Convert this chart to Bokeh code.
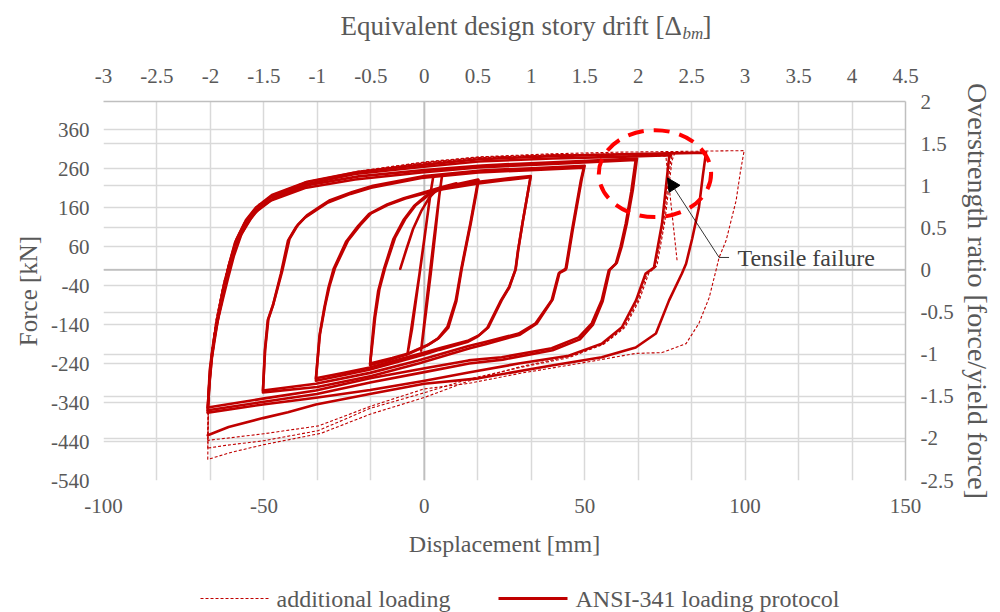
from bokeh.plotting import figure
from bokeh.models import (Range1d, LinearAxis, FixedTicker, NumeralTickFormatter, Grid, Span,
                          Arrow, NormalHead)
from bokeh.layouts import column
from bokeh.embed import file_html
from bokeh.resources import INLINE
from bokeh.core.properties import value

FONT = "Liberation Serif"
GRAY = "#595959"
RED = "#C00000"

# ---------------- axes / ticks ----------------
x_ticks = [-100, -50, 0, 50, 100, 150]
y_ticks = [-540, -440, -340, -240, -140, -40, 60, 160, 260, 360]
drift_ticks = [-3, -2.5, -2, -1.5, -1, -0.5, 0, 0.5, 1, 1.5, 2, 2.5, 3, 3.5, 4, 4.5]
ratio_ticks = [-2.5, -2, -1.5, -1, -0.5, 0, 0.5, 1, 1.5, 2]

# ---------------- ANSI-341 loading protocol (solid) ----------------
st_d = [-7.5, -5.5, -3.5, -1.0, 1.5, 4.4, 10.0]
st_f = [3, 55, 105, 150, 185, 210, 222]

el1_d = [-5.2, -3.5, -1.5, 0.5, 2.0, 2.8, 1.8, 0.2, -1.8, -3.8, -5.2]
el1_f = [-214, -120, -10, 110, 200, 240, 190, 90, -30, -150, -214]
el2_d = [-1.0, 0.5, 2.0, 3.5, 4.8, 5.5, 4.5, 3.0, 1.0, -0.2, -1.0]
el2_f = [-207, -110, -10, 100, 200, 240, 180, 80, -60, -150, -207]

l17a_d = [-16.9, -16.2, -15.3, -14.0, -12.2, -9.1, -6.0, -2.8, 1.0, 4.4, 10.0, 16.9,
          16.3, 14.5, 12.8, 11.6, 10.0, 7.5, 4.5, 1.2, -5.0, -10.0, -16.9]
l17a_f = [-240, -190, -120, -50, 6, 83, 130, 165, 190, 205, 218, 230,
          200, 120, 50, 0, -80, -148, -175, -192, -214, -226, -240]
l17b_d = [-16.9, -16.4, -15.6, -14.4, -12.6, -9.6, -6.5, -3.2, 0.5, 4.0, 10.0, 16.8,
          16.2, 14.4, 12.7, 11.5, 9.8, 7.2, 4.2, 0.8, -5.4, -10.5, -16.9]
l17b_f = [-244, -195, -125, -55, 2, 80, 128, 164, 190, 206, 220, 232,
          204, 122, 52, 2, -78, -146, -176, -194, -217, -230, -244]

l33a_d = [-33.8, -33.2, -32.5, -30.9, -29.5, -27.8, -23.8, -20.0, -16.6, -11.0, -5.9, 0.0,
          4.4, 16.9, 25.0, 33.1, 32.3, 30.6, 29.2, 28.4, 26.5, 24.1, 20.0, 17.0, 13.8,
          5.0, 0.0, -8.0, -17.0, -25.0, -33.8]
l33a_f = [-278, -225, -163, -91, -40, 6, 75, 115, 145, 168, 183, 196,
          205, 222, 230, 238, 200, 120, 50, 0, -45, -78, -147, -168, -181,
          -200, -212, -230, -250, -264, -278]
l33b_d = [-33.8, -33.3, -32.7, -31.2, -29.9, -28.3, -24.4, -20.6, -17.2, -11.6, -6.4, 0.0,
          4.0, 16.9, 25.0, 33.2, 32.4, 30.7, 29.3, 28.5, 26.4, 23.9, 19.6, 16.6, 13.4,
          4.6, 0.0, -8.4, -17.2, -25.4, -33.8]
l33b_f = [-284, -232, -170, -98, -46, 2, 72, 113, 144, 168, 184, 199,
          209, 226, 234, 241, 204, 124, 52, 2, -44, -78, -149, -171, -185,
          -205, -217, -236, -256, -270, -284]

l50a_d = [-50.3, -50.0, -49.7, -48.8, -47.2, -44.7, -42.5, -40.0, -37.2, -33.0, -30.0,
          -23.0, -16.6, -0.9, 16.9, 33.0, 49.7, 48.8, 47.5, 46.0, 44.8, 44.0, 41.9,
          39.7, 34.7, 29.4, 19.0, 13.8, -1.9, -16.9, -33.8, -50.3]
l50a_f = [-309, -260, -206, -129, -91, -9, 75, 110, 134, 157, 173,
          195, 211, 236, 250, 256, 262, 230, 170, 100, 40, 0, -9,
          -78, -137, -163, -185, -195, -232, -264, -292, -309]
l50b_d = [-50.3, -50.0, -49.6, -48.6, -47.0, -44.3, -42.0, -39.4, -36.6, -32.4, -29.4,
          -22.4, -16.0, 0.0, 17.5, 33.5, 50.0, 49.1, 47.8, 46.3, 45.1, 44.3, 42.2,
          40.0, 35.0, 29.8, 19.4, 14.2, -1.5, -16.5, -33.4, -50.3]
l50b_f = [-314, -262, -204, -126, -86, -3, 80, 116, 140, 163, 179,
          200, 216, 241, 255, 261, 267, 234, 174, 104, 44, 4, -6,
          -76, -138, -166, -190, -201, -239, -272, -300, -314]

l67a_d = [-67.5, -67.2, -66.9, -66.0, -65.0, -63.5, -62.2, -60.3, -58.1, -55.5, -52.8,
          -47.8, -37.2, -21.6, -0.9, 16.9, 40.0, 65.9, 64.5, 62.8, 61.2, 59.7, 57.5,
          55.3, 52.2, 48.1, 39.7, 24.1, 13.8, -0.3, -16.9, -33.8, -50.3, -67.5]
l67a_f = [-353, -310, -258, -200, -148, -95, -45, 16, 75, 115, 147,
          178, 210, 232, 250, 263, 272, 282, 200, 119, 60, 16, -1,
          -78, -137, -173, -201, -224, -232, -253, -278, -309, -330, -353]

l67b_d = [-67.5, -67.1, -66.6, -65.6, -64.4, -62.8, -61.3, -59.4, -57.0, -54.2, -51.5,
          -46.5, -36.0, -20.5, 0.0, 18.0, 42.0, 66.3, 65.0, 63.2, 61.6, 60.0, 57.8,
          55.6, 52.6, 48.5, 40.0, 24.5, 14.0, 0.0, -16.5, -33.5, -50.0, -67.5]
l67b_f = [-353, -300, -245, -185, -130, -75, -25, 35, 92, 130, 158,
          186, 218, 240, 256, 268, 277, 286, 205, 122, 62, 18, 0,
          -80, -140, -178, -206, -230, -240, -262, -288, -318, -338, -360]

l77_d = [-67.5, -67.0, -66.2, -65.0, -63.0, -61.0, -59.0, -56.0, -53.0, -48.0, -37.0,
         -21.6, -0.9, 16.9, 40.0, 60.0, 76.9, 76.3, 74.1, 71.6, 69.0, 66.0, 61.6,
         55.3, 45.0, 29.4, 13.8, -0.3, -16.9, -33.8, -50.3, -67.5]
l77_f = [-360, -290, -220, -150, -60, 10, 70, 120, 152, 185, 220,
         246, 264, 278, 286, 290, 294, 288, 119, 6, -9, -78, -147,
         -189, -220, -240, -263, -285, -308, -328, -345, -366]

l88_d = [-67.5, -67.0, -66.2, -64.8, -62.8, -60.8, -58.6, -55.6, -52.5, -47.5, -36.5,
         -20.5, 0.0, 17.0, 40.0, 65.0, 87.8, 86.8, 85.6, 83.5, 81.6, 80.3, 76.3,
         72.2, 65.9, 55.3, 39.7, 16.9, 0.0, -17.0, -33.8, -42.5, -50.3, -61.0, -67.5]
l88_f = [-366, -295, -225, -150, -55, 15, 78, 128, 160, 192, 226,
         252, 270, 284, 292, 297, 301, 240, 160, 80, 16, -9, -78,
         -163, -199, -224, -245, -278, -292, -318, -345, -365, -380, -403, -424]

# ---------------- additional loading (dashed) ----------------
d1_d = [-67.5, -67.3, -66.5, -65.0, -62.5, -60.5, -58.0, -55.0, -52.0, -47.0, -37.0,
        -20.0, 0.0, 17.0, 40.0, 60.0, 80.0, 99.7, 98.5, 97.2, 94.1, 91.9, 90.9, 88.8,
        85.6, 81.6, 74.1, 65.9, 50.3, 30.0, 13.8, 0.0, -16.9, -33.0, -50.0, -60.0, -67.5]
d1_f = [-424, -330, -220, -130, -30, 30, 90, 135, 166, 194, 226,
        254, 277, 290, 298, 302, 304, 306, 250, 178, 76, 32, -2, -71,
        -137, -189, -212, -214, -237, -265, -291, -305, -350, -400, -420, -430, -437]

d2_d = [-67.5, -67.3, -66.5, -65.0, -62.5, -60.5, -58.0, -55.0, -52.0, -47.0, -37.0,
        -20.0, 0.0, 17.0, 40.0, 60.0, 77.5, 76.8, 74.6, 72.0, 69.5, 66.5, 62.0, 55.5,
        45.0, 30.0, 13.8, 0.0, -16.9, -33.0, -50.0, -62.0, -67.5]
d2_f = [-437, -340, -225, -132, -32, 28, 88, 133, 164, 193, 225,
        253, 276, 289, 296, 298, 299, 280, 120, 8, -10, -80, -150, -192,
        -225, -250, -280, -315, -355, -412, -438, -450, -457]

d3_d = [-67.5, -67.3, -66.5, -65.0, -62.5, -60.5, -58.0, -55.0, -52.0, -47.0, -37.0,
        -20.0, 0.0, 17.0, 40.0, 60.0, 78.0, 77.2, 75.0, 72.5, 70.0, 67.0, 62.5, 56.0,
        45.0, 30.0, 13.8, 0.0, -16.9, -32.2, -50.0, -60.3, -67.5]
d3_f = [-457, -345, -228, -134, -33, 27, 87, 132, 163, 192, 224,
        252, 275, 288, 295, 297, 298, 280, 125, 10, -8, -78, -148, -190,
        -222, -248, -285, -327, -370, -419, -448, -468, -486]

d4_d = [-67.5, -67.3, -66.5, -65.0, -62.5, -60.5, -58.0, -55.0, -52.0, -47.0, -37.0,
        -20.0, 0.0, 17.0, 40.0, 60.0, 75.3, 78.8]
d4_f = [-486, -350, -230, -135, -34, 26, 86, 131, 162, 191, 223,
        251, 274, 287, 294, 296, 292, 24]

solid_xs = [st_d, el1_d, el2_d, l17a_d, l17b_d, l33a_d, l33b_d, l50a_d, l50b_d,
            l67a_d, l67b_d, l77_d, l88_d]
solid_ys = [st_f, el1_f, el2_f, l17a_f, l17b_f, l33a_f, l33b_f, l50a_f, l50b_f,
            l67a_f, l67b_f, l77_f, l88_f]
dash_xs = [d1_d, d2_d, d3_d, d4_d]
dash_ys = [d1_f, d2_f, d3_f, d4_f]

# annotation (tensile failure)
circle_x, circle_y, circle_w, circle_h = 71.9, 247, 35.0, 223
arrow_tip = (75.8, 236)
arrow_tail = (91.9, 32)
note_pos = (97.6, 30)

TOP_H, MAIN_H, LEG_H = 50, 525, 37
BL, BR = 103, 95

# ---------------- title strip (top) ----------------
tf = figure(width=1000, height=TOP_H, x_range=Range1d(BL, 1000 - BR), y_range=Range1d(TOP_H, 0),
            output_backend="svg", toolbar_location=None,
            min_border_left=BL, min_border_right=BR, min_border_top=0, min_border_bottom=0,
            x_axis_location=None, y_axis_location=None)
tf.outline_line_color = None
tf.grid.visible = False
tf.text(x=[340, 702], y=[25, 25], text=["Equivalent design story drift [Δ", "]"],
        text_font=value(FONT), text_font_size=value("27px"), text_color=GRAY,
        text_baseline="middle", text_align="left")
tf.text(x=[682], y=[33], text=["bm"], text_font=value(FONT), text_font_style="italic",
        text_font_size=value("17px"), text_color=GRAY, text_baseline="middle", text_align="left")

# ---------------- main figure ----------------
p = figure(width=1000, height=MAIN_H, x_range=Range1d(-100, 150), y_range=Range1d(-540, 432),
           output_backend="svg", toolbar_location=None,
           min_border_left=BL, min_border_right=BR, min_border_top=101 - TOP_H, min_border_bottom=95)
p.outline_line_color = None
p.background_fill_color = "white"
p.border_fill_color = "white"
p.extra_x_ranges = {"drift": Range1d(-3, 4.5)}
p.extra_y_ranges = {"ratio": Range1d(-2.5, 2.0)}

bottom = p.below[0]
left = p.left[0]
top = LinearAxis(x_range_name="drift", ticker=FixedTicker(ticks=drift_ticks),
                 formatter=NumeralTickFormatter(format="0.[0]"))
right = LinearAxis(y_range_name="ratio", ticker=FixedTicker(ticks=ratio_ticks),
                   formatter=NumeralTickFormatter(format="0.[0]"))
p.add_layout(top, "above")
p.add_layout(right, "right")

bottom.ticker = FixedTicker(ticks=x_ticks)
bottom.formatter = NumeralTickFormatter(format="0")
left.ticker = FixedTicker(ticks=y_ticks)
left.formatter = NumeralTickFormatter(format="0")

for ax in (bottom, left, top, right):
    ax.major_tick_line_color = None
    ax.minor_tick_line_color = None
    ax.major_label_text_font = FONT
    ax.major_label_text_font_size = "21px"
    ax.major_label_text_color = GRAY
    ax.axis_label_text_font = FONT
    ax.axis_label_text_font_style = "normal"
    ax.axis_label_text_color = GRAY
    ax.major_tick_out = 0
    ax.major_tick_in = 0

bottom.axis_line_color = None
left.axis_line_color = None
top.axis_line_color = "#BFBFBF"
top.axis_line_width = 1.5
right.axis_line_color = "#BFBFBF"
right.axis_line_width = 1.5

bottom.axis_label = "Displacement [mm]"
bottom.axis_label_text_font_size = "24px"
bottom.major_label_standoff = 18
bottom.axis_label_standoff = 15

left.axis_label = "Force [kN]"
left.axis_label_text_font_size = "25px"
left.major_label_standoff = 14
left.axis_label_standoff = 6

right.axis_label = "Overstrength ratio [force/yield force]"
right.axis_label_text_font_size = "28px"
right.major_label_standoff = 15
right.axis_label_standoff = 5

top.major_label_standoff = 19

# grids
p.xgrid.visible = False
p.ygrid.ticker = left.ticker
p.ygrid.grid_line_color = "#D9D9D9"
p.ygrid.grid_line_width = 1.5
vgrid = Grid(dimension=0, ticker=top.ticker, x_range_name="drift",
             grid_line_color="#D9D9D9", grid_line_width=1.5)
hgrid2 = Grid(dimension=1, ticker=right.ticker, y_range_name="ratio",
              grid_line_color="#D9D9D9", grid_line_width=1.5)
p.add_layout(vgrid)
p.add_layout(hgrid2)
p.add_layout(Span(location=0, dimension="height", line_color="#BFBFBF", line_width=1.8, level="underlay"))
p.add_layout(Span(location=0, dimension="width", line_color="#BFBFBF", line_width=1.8, level="underlay"))

# curves
p.multi_line(xs=dash_xs, ys=dash_ys, line_color=RED, line_width=1.1, line_dash="3 2",
             line_join="round")
p.multi_line(xs=solid_xs, ys=solid_ys, line_color=RED, line_width=2.6, line_join="round",
             line_cap="round")

# annotation
p.ellipse(x=[circle_x], y=[circle_y], width=circle_w, height=circle_h, fill_color=None,
          line_color="#FF0000", line_width=4, line_dash="16 10")
p.line([arrow_tail[0], arrow_tail[0] + 3.1], [arrow_tail[1], arrow_tail[1]],
       line_color="#000000", line_width=0.8)
p.add_layout(Arrow(end=NormalHead(size=13, fill_color="black", line_color="black", line_width=1),
                   x_start=arrow_tail[0], y_start=arrow_tail[1],
                   x_end=arrow_tip[0], y_end=arrow_tip[1],
                   line_color="black", line_width=0.8))
p.text(x=[note_pos[0]], y=[note_pos[1]], text=["Tensile failure"],
       text_font=value(FONT), text_font_size=value("24px"), text_color="#404040",
       text_baseline="middle", text_align="left")

# ---------------- legend strip (bottom) ----------------
lf = figure(width=1000, height=LEG_H, x_range=Range1d(BL, 1000 - BR), y_range=Range1d(LEG_H, 0),
            output_backend="svg", toolbar_location=None,
            min_border_left=BL, min_border_right=BR, min_border_top=0, min_border_bottom=0,
            x_axis_location=None, y_axis_location=None)
lf.outline_line_color = None
lf.grid.visible = False
lf.line([200, 268], [23, 23], line_color=RED, line_width=1.2, line_dash="3 2")
lf.line([498, 567], [23, 23], line_color=RED, line_width=3)
lf.text(x=[276, 575], y=[23, 23], text=["additional loading", "ANSI-341 loading protocol"],
        text_font=value(FONT), text_font_size=value("24px"), text_color=GRAY,
        text_baseline="middle", text_align="left")

layout = column(tf, p, lf, spacing=0)
open("out.html", "w").write(file_html(layout, INLINE))
